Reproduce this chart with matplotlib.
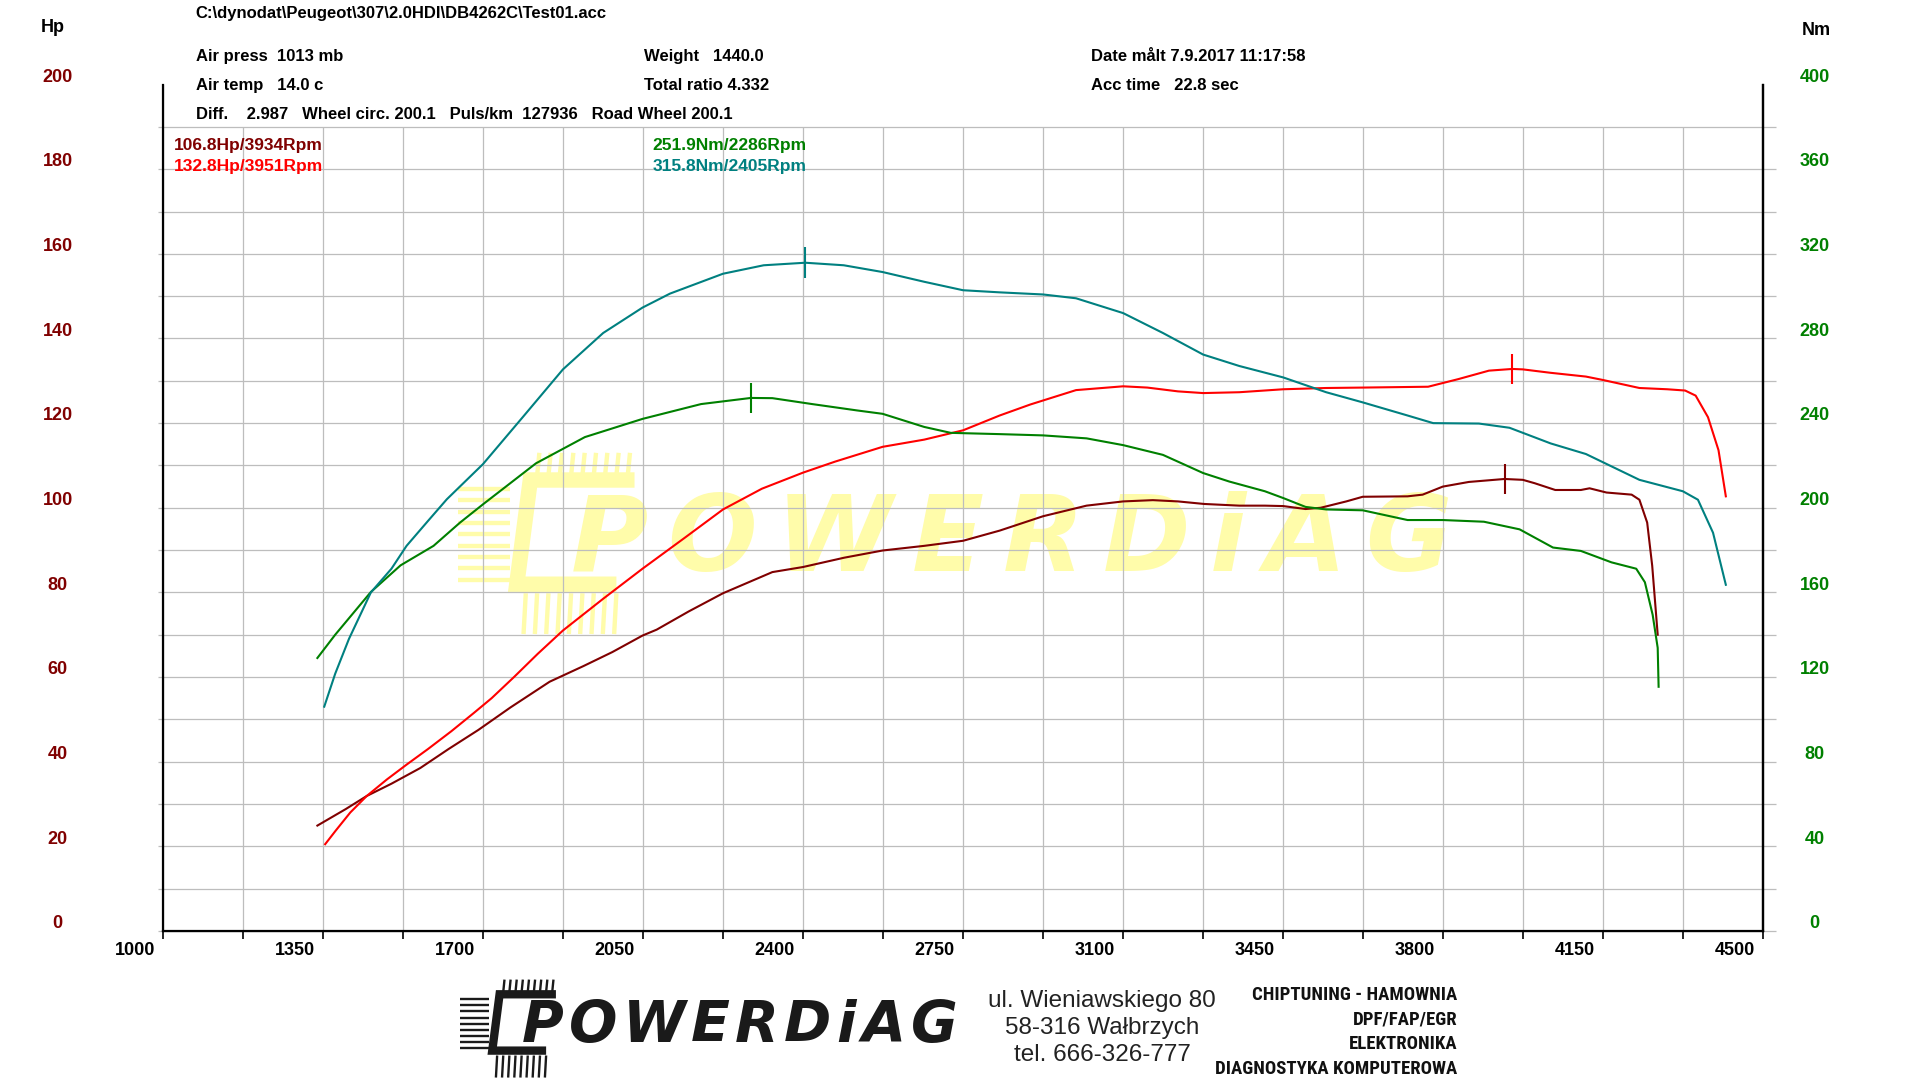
import matplotlib
matplotlib.use("Agg")
import matplotlib.pyplot as plt
import matplotlib.transforms as mtransforms
from matplotlib import font_manager
from matplotlib.font_manager import FontProperties
from matplotlib.lines import Line2D
import numpy as np

# --- data -------------------------------------------------------------------
hp1_rpm = [1338, 1400, 1446, 1500, 1563, 1625, 1690, 1760, 1846, 1920, 1983, 2049,
           2080, 2150, 2225, 2333, 2400, 2490, 2574, 2665, 2750, 2830, 2925, 3020,
           3100, 3165, 3220, 3277, 3354, 3410, 3450, 3499, 3532, 3588, 3624, 3722,
           3755, 3799, 3856, 3934, 3974, 4000, 4045, 4101, 4120, 4157, 4212, 4229,
           4246, 4257, 4269]
hp1_val = [24.9, 28.8, 31.9, 34.8, 38.5, 43.0, 47.5, 52.8, 58.9, 62.6, 65.9, 69.8,
           71.2, 75.5, 79.8, 84.8, 86.0, 88.2, 89.9, 91.0, 92.2, 94.6, 98.0, 100.5,
           101.5, 101.8, 101.5, 100.9, 100.5, 100.5, 100.4, 99.7, 100.0, 101.5, 102.6, 102.7,
           103.1, 105.0, 106.1, 106.8, 106.6, 105.8, 104.2, 104.2, 104.6, 103.6, 103.1, 101.9,
           96.5, 86.3, 70.0]

hp2_rpm = [1355, 1378, 1410, 1446, 1490, 1533, 1580, 1631, 1680, 1719, 1768, 1820,
           1875, 1963, 2049, 2140, 2225, 2310, 2400, 2470, 2574, 2665, 2750, 2830,
           2897, 2997, 3100, 3153, 3220, 3275, 3354, 3450, 3544, 3624, 3767, 3833,
           3900, 3951, 3974, 4034, 4112, 4149, 4229, 4290, 4329, 4352, 4379, 4402, 4418]
hp2_val = [20.5, 23.7, 28.0, 31.9, 35.8, 39.3, 43.0, 47.2, 51.5, 55.0, 60.0, 65.5,
           71.0, 78.5, 85.6, 92.8, 99.6, 104.5, 108.3, 110.9, 114.4, 116.1, 118.3, 121.8,
           124.4, 127.8, 128.7, 128.4, 127.5, 127.1, 127.3, 128.0, 128.3, 128.4, 128.6, 130.4,
           132.4, 132.8, 132.7, 131.9, 131.0, 130.2, 128.3, 128.0, 127.7, 126.5, 121.4, 113.6, 102.7]

nm1_rpm = [1338, 1377, 1455, 1520, 1592, 1650, 1700, 1816, 1923, 2049, 2177, 2286,
           2333, 2420, 2518, 2574, 2665, 2723, 2830, 2925, 3020, 3100, 3187, 3275,
           3332, 3410, 3450, 3499, 3544, 3624, 3722, 3799, 3889, 3967, 4040, 4101,
           4168, 4222, 4241, 4258, 4269, 4271]
nm1_val = [129.0, 140.0, 160.2, 172.8, 182.0, 193.0, 201.6, 221.0, 233.4, 242.0, 249.0, 251.9,
           251.8, 249.0, 246.0, 244.4, 238.2, 235.4, 234.8, 234.2, 232.8, 229.6, 225.0, 216.4,
           212.4, 207.8, 204.6, 200.4, 199.2, 198.8, 194.2, 194.2, 193.4, 189.8, 181.2, 179.6,
           174.2, 171.2, 164.8, 149.4, 133.8, 115.4]

nm2_rpm = [1353, 1377, 1407, 1455, 1500, 1533, 1580, 1621, 1700, 1787, 1875, 1963,
           2049, 2109, 2225, 2314, 2405, 2489, 2574, 2665, 2750, 2830, 2925, 2997,
           3100, 3187, 3275, 3354, 3450, 3544, 3624, 3722, 3778, 3878, 3945, 4035,
           4112, 4229, 4324, 4357, 4390, 4418]
nm2_val = [106.0, 121.6, 138.0, 160.0, 171.2, 182.0, 193.8, 204.0, 220.6, 242.8, 265.4, 282.6,
           294.6, 301.2, 310.6, 314.6, 315.8, 314.6, 311.4, 306.8, 302.8, 301.8, 300.8, 299.0,
           292.0, 282.6, 272.4, 267.0, 261.6, 254.6, 249.8, 243.6, 240.0, 239.8, 237.8, 230.4,
           225.4, 213.2, 207.8, 203.8, 188.2, 163.6]

peak_labels = ["106.8Hp/3934Rpm", "132.8Hp/3951Rpm", "251.9Nm/2286Rpm", "315.8Nm/2405Rpm"]
hp_peaks = [(3934, 106.8), (3951, 132.8)]
nm_peaks = [(2286, 251.9), (2405, 315.8)]

x_labels = [1000, 1350, 1700, 2050, 2400, 2750, 3100, 3450, 3800, 4150, 4500]
hp_labels = list(range(0, 201, 20))
nm_labels = list(range(0, 401, 40))

header = [
    (0.1020, 0.9876, r"C:\dynodat\Peugeot\307\2.0HDI\DB4262C\Test01.acc"),
    (0.1020, 0.9480, "Air press  1013 mb"),
    (0.1020, 0.9208, "Air temp   14.0 c"),
    (0.1020, 0.8937, "Diff.    2.987   Wheel circ. 200.1   Puls/km  127936   Road Wheel 200.1"),
    (0.3355, 0.9480, "Weight   1440.0"),
    (0.3355, 0.9208, "Total ratio 4.332"),
    (0.5682, 0.9480, "Date målt 7.9.2017 11:17:58"),
    (0.5682, 0.9208, "Acc time   22.8 sec"),
]
brand = "POWERDiAG"
address = ["ul. Wieniawskiego 80", "58-316 Wałbrzych", "tel. 666-326-777"]
services = ["CHIPTUNING - HAMOWNIA", "DPF/FAP/EGR", "ELEKTRONIKA", "DIAGNOSTYKA KOMPUTEROWA"]

C_HP1 = "#800000"
C_HP2 = "#ff0000"
C_NM1 = "#008000"
C_NM2 = "#008080"
C_WM = "#fffcaa"
C_LOGO = "#1a1a1a"

# page layout is worked out on a 1568 x 882 copy of the sheet
PW, PH = 1568.0, 882.0


def narrow_bold():
    """A condensed bold face if one is installed, else None."""
    fl = font_manager.fontManager.ttflist
    for f in fl:
        if f.name in ("Liberation Sans Narrow", "Arial Narrow", "Roboto Condensed") and "Bold" in f.fname \
                and "Italic" not in f.fname:
            return f.fname
    for f in fl:
        if "Condensed-Bold" in f.fname and "Oblique" not in f.fname:
            return f.fname
    return None


plt.rcParams["font.family"] = ["Liberation Sans", "DejaVu Sans"]
NARROW = narrow_bold()
if NARROW:
    svc_font = dict(fontproperties=FontProperties(fname=NARROW, size=13.5))
else:
    svc_font = dict(fontsize=11.2, fontweight="bold")

fig = plt.figure(figsize=(19.2, 10.8), dpi=100)
ax = fig.add_axes([0.0848, 0.138, 0.8336, 0.7837])
ax2 = ax.twinx()
renderer = fig.canvas.get_renderer()

ax.set_xlim(1000, 4500)
ax.set_ylim(0, 200)
ax2.set_ylim(0, 400)

# grid: every 175 rpm / 10 Hp, boxed at 190 Hp
ax.hlines(np.arange(0, 200, 10), 990, 4527, colors="#bdbdbd", lw=0.9, zorder=0.6, clip_on=False)
ax.vlines(np.arange(1175, 4500, 175), 0, 190, colors="#bdbdbd", lw=0.9, zorder=0.6)

for a in (ax, ax2):
    a.spines["top"].set_visible(False)
    a.set_yticks([])
for side in ("left", "right", "bottom"):
    ax.spines[side].set_linewidth(1.6)
ax2.spines["right"].set_linewidth(1.6)
ax.set_xticks(np.arange(1000, 4501, 175))
ax.tick_params(axis="x", direction="out", length=6, width=1.2, labelbottom=False)


def spaced_text(target, s, x0, x1, yc, size, color, zorder):
    """Brand text spread letter by letter between page pixels x0..x1."""
    kw = dict(fontsize=size, fontweight="bold", style="italic", family="DejaVu Sans",
              color=color, va="center", ha="left", transform=fig.transFigure, zorder=zorder)
    parts = [target.text(0, 0, ch, **kw) for ch in s]
    widths = [p.get_window_extent(renderer).width for p in parts]
    span = (x1 - x0) / PW * fig.bbox.width
    gap = (span - sum(widths)) / (len(s) - 1)
    pos = x0 / PW * fig.bbox.width
    for p, w in zip(parts, widths):
        p.set_position((pos / fig.bbox.width, 1 - yc / PH))
        pos += w + gap


def logo_marks(target, x0, y0, k, color, zorder):
    """Bracket and cooling fins of the logo; (x0, y0) top-left of bracket, k = scale."""
    def seg(xs, ys, lw):
        ln = Line2D([(x0 + v * k) / PW for v in xs], [1 - (y0 + v * k) / PH for v in ys],
                    transform=fig.transFigure, color=color, lw=lw * k, zorder=zorder,
                    solid_joinstyle="miter", solid_capstyle="butt", clip_on=False)
        target.add_artist(ln) if target is fig else target.add_line(ln)

    seg([52, 6, 0, 44], [0, 0, 46, 46], 6)
    for i in range(9):
        seg([10 + i * 5, 9 + i * 5], [-12, -2], 1.7)
        seg([4 + i * 5, 3 + i * 5], [50, 68], 1.7)
        seg([-26, -3], [4 + i * 5, 4 + i * 5], 1.7)


# watermark behind grid and curves
logo_marks(ax, 422, 392, 1.85, C_WM, 0.3)
spaced_text(ax, brand, 466, 1186, 443, 76, C_WM, 0.3)

ax.plot(hp1_rpm, hp1_val, color=C_HP1, lw=1.5, zorder=4)
ax.plot(hp2_rpm, hp2_val, color=C_HP2, lw=1.5, zorder=4)
ax2.plot(nm1_rpm, nm1_val, color=C_NM1, lw=1.5, zorder=4)
ax2.plot(nm2_rpm, nm2_val, color=C_NM2, lw=1.5, zorder=4)

for (r, v), c in zip(hp_peaks, (C_HP1, C_HP2)):
    ax.vlines(r, v - 3.6, v + 3.6, colors=c, lw=1.5, zorder=5)
for (r, v), c in zip(nm_peaks, (C_NM1, C_NM2)):
    ax2.vlines(r, v - 7.2, v + 7.2, colors=c, lw=1.5, zorder=5)

# axis numbers, placed like the dyno software does (slightly offset)
up = mtransforms.ScaledTranslation(0, 0.073, fig.dpi_scale_trans)
left_tr = mtransforms.blended_transform_factory(fig.transFigure, ax.transData) + up
right_tr = mtransforms.blended_transform_factory(fig.transFigure, ax2.transData) + up
for v in hp_labels:
    fig.text(0.0300, v, str(v), transform=left_tr, ha="center", va="center",
             fontsize=13, fontweight="bold", color=C_HP1)
for v in nm_labels:
    fig.text(0.9452, v, str(v), transform=right_tr, ha="center", va="center",
             fontsize=13, fontweight="bold", color=C_NM1)
xoff = mtransforms.ScaledTranslation(-0.282, -0.195, fig.dpi_scale_trans)
x_tr = mtransforms.blended_transform_factory(ax.transData, ax.transAxes) + xoff
for r in x_labels:
    ax.text(r, 0, str(r), transform=x_tr, ha="center", va="center",
            fontsize=13, fontweight="bold", color="black")

fig.text(0.0274, 0.975, "Hp", ha="center", va="center", fontsize=13, fontweight="bold")
fig.text(0.9458, 0.972, "Nm", ha="center", va="center", fontsize=13, fontweight="bold")

for x, y, s in header:
    fig.text(x, y, s, ha="left", va="center", fontsize=12, fontweight="bold")

legend_pos = [(0.0906, 0.8654), (0.0906, 0.8462), (0.3400, 0.8654), (0.3400, 0.8462)]
for (x, y), s, c in zip(legend_pos, peak_labels, (C_HP1, C_HP2, C_NM1, C_NM2)):
    fig.text(x, y, s, ha="left", va="center", fontsize=12.5, fontweight="bold", color=c)

# footer: logo, address, services
logo_marks(fig, 402, 812, 1.0, C_LOGO, 3)
spaced_text(fig, brand, 426, 782, 838, 41, C_LOGO, 3)

for y, s in zip((0.0727, 0.0478, 0.0229), address):
    fig.text(0.5740, y, s, ha="center", va="center", fontsize=17.5, color="#222222")
for y, s in zip((0.0783, 0.0557, 0.0331, 0.0104), services):
    fig.text(0.7590, y, s, ha="right", va="center", color="#111111", **svc_font)

fig.savefig("out.png", dpi=100)
